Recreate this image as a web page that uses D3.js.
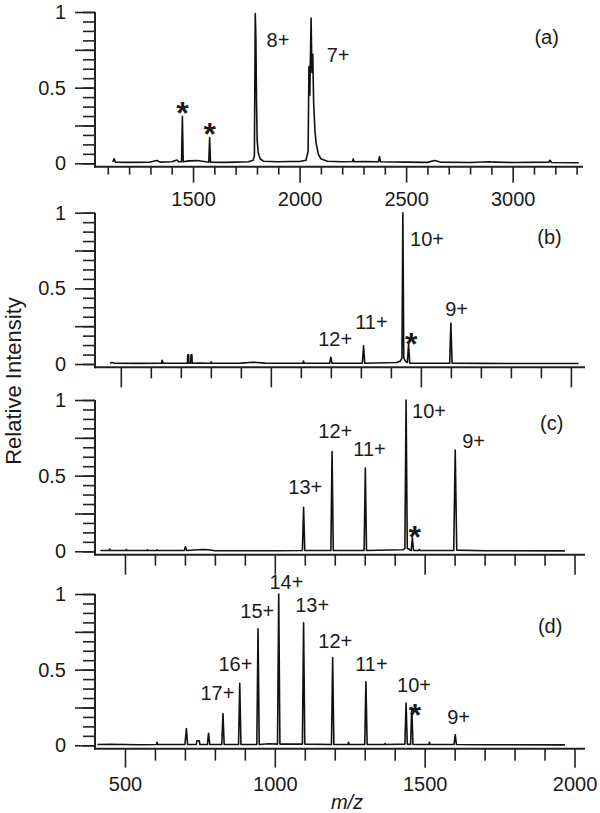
<!DOCTYPE html>
<html>
<head>
<meta charset="utf-8">
<script src="https://cdn.jsdelivr.net/npm/d3@7"></script>
<style>
  body { margin: 0; background: #fff; }
  svg text { font-family: "Liberation Sans", Arial, sans-serif; fill: #1a1a1a; }
</style>
</head>
<body>
<div id="chart"></div>
<script>
// spectra: [m/z, relative intensity]
var specA = [
  [1123,0.01],[1130,0.03],[1135,0.008],[1200,0.006],[1300,0.008],[1330,0.018],[1345,0.008],[1400,0.01],
  [1425,0.022],[1432,0.01],[1446,0.01],[1450,0.31],[1454,0.01],[1480,0.016],[1520,0.018],[1560,0.01],
  [1574,0.008],[1578,0.17],[1582,0.008],[1650,0.006],[1700,0.008],[1760,0.01],[1782,0.02],[1788,0.05],
  [1792,0.99],[1795,0.83],[1798,0.4],[1801,0.15],[1806,0.07],[1815,0.03],[1830,0.014],[1900,0.01],
  [1950,0.012],[2000,0.012],[2030,0.02],[2040,0.08],[2044,0.64],[2048,0.45],[2054,0.96],[2058,0.6],
  [2062,0.72],[2066,0.4],[2072,0.22],[2078,0.13],[2088,0.06],[2100,0.03],[2130,0.014],[2200,0.01],
  [2248,0.012],[2252,0.03],[2256,0.01],[2300,0.012],[2370,0.01],[2375,0.045],[2380,0.01],[2500,0.008],
  [2600,0.006],[2633,0.018],[2660,0.008],[2800,0.005],[2890,0.01],[2920,0.008],[3000,0.005],[3170,0.008],
  [3175,0.02],[3182,0.005],[3310,0.004]
];
var specB = [
  [464,0.005],[470,0.01],[480,0.005],[560,0.004],[636,0.005],[638,0.025],[641,0.005],[700,0.005],
  [722,0.005],[723,0.06],[726,0.06],[727,0.005],[733,0.005],[734,0.06],[737,0.06],[738,0.005],
  [760,0.006],[800,0.005],[801,0.015],[803,0.005],[900,0.006],[940,0.012],[980,0.006],[1050,0.005],
  [1107,0.005],[1109,0.02],[1111,0.005],[1196,0.005],[1200,0.045],[1204,0.005],[1305,0.005],[1309,0.12],
  [1313,0.005],[1420,0.01],[1432,0.02],[1437,0.04],[1440,1.0],[1443,0.04],[1448,0.02],[1455,0.01],
  [1459,0.13],[1463,0.005],[1596,0.005],[1600,0.27],[1604,0.005],[1700,0.004],[2025,0.003]
];
var specC = [
  [418,0.005],[447,0.005],[449,0.015],[451,0.005],[503,0.005],[505,0.012],[507,0.005],[573,0.005],
  [575,0.01],[577,0.005],[605,0.005],[607,0.01],[609,0.005],[698,0.005],[702,0.03],[706,0.005],
  [745,0.01],[760,0.012],[778,0.01],[800,0.004],[900,0.004],[1000,0.004],[1092,0.005],[1096,0.29],
  [1100,0.005],[1187,0.005],[1191,0.66],[1195,0.005],[1298,0.005],[1302,0.55],[1306,0.005],[1428,0.01],
  [1434,0.02],[1438,1.0],[1442,0.02],[1455,0.005],[1459,0.09],[1463,0.005],[1480,0.005],[1482,0.012],
  [1485,0.005],[1597,0.005],[1602,0.67],[1607,0.008],[1700,0.004],[1968,0.003]
];
var specD = [
  [408,0.005],[450,0.006],[500,0.005],[550,0.004],[605,0.005],[607,0.02],[609,0.005],[700,0.005],
  [705,0.11],[709,0.005],[738,0.005],[740,0.03],[744,0.03],[748,0.03],[750,0.005],[775,0.005],
  [779,0.08],[783,0.005],[823,0.005],[827,0.21],[831,0.005],[879,0.005],[883,0.41],[887,0.005],
  [940,0.005],[944,0.77],[948,0.005],[980,0.01],[1009,0.008],[1013,1.0],[1017,0.008],[1092,0.008],
  [1096,0.81],[1100,0.008],[1189,0.005],[1193,0.58],[1197,0.005],[1244,0.005],[1246,0.02],[1248,0.005],
  [1300,0.005],[1304,0.42],[1308,0.005],[1366,0.005],[1368,0.012],[1370,0.005],[1434,0.008],[1438,0.28],
  [1442,0.008],[1453,0.005],[1457,0.25],[1461,0.005],[1514,0.005],[1516,0.02],[1518,0.005],[1598,0.005],
  [1602,0.07],[1606,0.005],[1700,0.004],[1968,0.003]
];

// peak labels: [text, m/z, intensity] (left edge / baseline)
var labA = [["8+",1845,0.77],["7+",2127,0.67],["(a)",3102,0.79]];
var labB = [["10+",1464,0.78],["9+",1581,0.32],["11+",1281,0.23],["12+",1158,0.12],["(b)",1888,0.79]];
var labC = [["10+",1458,0.88],["12+",1145,0.75],["11+",1262,0.63],["9+",1625,0.68],["13+",1045,0.38],["(c)",1885,0.8]];
var labD = [["14+",982,1.03],["13+",1068,0.88],["15+",885,0.84],["16+",812,0.49],["17+",752,0.3],
            ["12+",1145,0.64],["11+",1268,0.49],["10+",1408,0.35],["9+",1575,0.14],["(d)",1878,0.74]];
// asterisks: [m/z, intensity of baseline]
var starA = [[1450,0.26],[1578,0.12]];
var starB = [[1468,0.06]];
var starC = [[1467,0.02]];
var starD = [[1468,0.13]];

var xMajorA = [1500,2000,2500,3000];
var xMajorB = [500,1000,1500,2000];
var yTickLabels = ["0","0.5","1"];

var w = 600, h = 813;
var svg = d3.select("#chart").append("svg").attr("width", w).attr("height", h);

var panels = [
  {spec: specA, lab: labA, star: starA, top: 12,    xd: [1040,3330], xr: [95,583], maj: xMajorA, minStep: 100, minFrom: 1100, minTo: 3300, big: 16, small: 8, labels: true},
  {spec: specB, lab: labB, star: starB, top: 212.7, xd: [414,2047],  xr: [95,585], maj: xMajorB, minStep: 100, minFrom: 500,  minTo: 2000, big: 20, small: 11, labels: false},
  {spec: specC, lab: labC, star: starC, top: 400,   xd: [400,2035],  xr: [95,585], maj: xMajorB, minStep: 100, minFrom: 500,  minTo: 2000, big: 20, small: 11, labels: false},
  {spec: specD, lab: labD, star: starD, top: 594,   xd: [400,2035],  xr: [95,585], maj: xMajorB, minStep: 100, minFrom: 500,  minTo: 2000, big: 19, small: 12, labels: true}
];

var unit = 151.3;

panels.forEach(function(p) {
  var x = d3.scaleLinear().domain(p.xd).range(p.xr);
  var y = d3.scaleLinear().domain([-0.022, 1]).range([p.top + unit * 1.022, p.top]);
  var g = svg.append("g");
  var base = y(-0.022);

  // y axis: minor (1/16), quarter, major labelled
  var yMinor = d3.range(0, 17).map(function(i) { return i / 16; });
  g.append("g").attr("transform", "translate(" + p.xr[0] + ",0)")
    .call(d3.axisLeft(y).tickValues(yMinor).tickSize(12).tickSizeOuter(0).tickFormat(""))
    .call(function(a) { a.select(".domain").remove(); a.selectAll("line").attr("stroke", "#222").attr("stroke-width", 1.6); });
  g.append("g").attr("transform", "translate(" + p.xr[0] + ",0)")
    .call(d3.axisLeft(y).tickValues([0, 0.25, 0.5, 0.75, 1]).tickSize(20).tickSizeOuter(0)
      .tickFormat(function(d) { var k = [0, 0.5, 1].indexOf(d); return k < 0 ? "" : yTickLabels[k]; }))
    .call(function(a) {
      a.select(".domain").remove();
      a.selectAll("line").attr("stroke", "#222").attr("stroke-width", 1.6);
      a.selectAll("text").attr("x", -29).attr("font-size", 20).attr("font-family", "Liberation Sans, Arial, sans-serif").attr("fill", "#1a1a1a");
    });

  // x axis
  var xMinor = d3.range(p.minFrom, p.minTo + 1, p.minStep).filter(function(v) { return p.maj.indexOf(v) < 0; });
  g.append("g").attr("transform", "translate(0," + base + ")")
    .call(d3.axisBottom(x).tickValues(xMinor).tickSize(p.small).tickSizeOuter(0).tickFormat(""))
    .call(function(a) { a.select(".domain").remove(); a.selectAll("line").attr("stroke", "#222").attr("stroke-width", 1.6); });
  g.append("g").attr("transform", "translate(0," + base + ")")
    .call(d3.axisBottom(x).tickValues(p.maj).tickSize(p.big).tickSizeOuter(0)
      .tickFormat(p.labels ? d3.format("d") : ""))
    .call(function(a) {
      a.select(".domain").remove();
      a.selectAll("line").attr("stroke", "#222").attr("stroke-width", 1.6);
      a.selectAll("text").attr("y", p.big + 9).attr("font-size", 20).attr("font-family", "Liberation Sans, Arial, sans-serif").attr("fill", "#1a1a1a");
    });

  // axis lines
  g.append("line").attr("x1", p.xr[0]).attr("x2", p.xr[0]).attr("y1", y(1)).attr("y2", base + 1)
    .attr("stroke", "#222").attr("stroke-width", 2);
  g.append("line").attr("x1", p.xr[0]).attr("x2", p.xr[1]).attr("y1", base).attr("y2", base)
    .attr("stroke", "#222").attr("stroke-width", 2);

  // spectrum
  var line = d3.line().x(function(d) { return x(d[0]); }).y(function(d) { return y(d[1]); });
  g.append("path").datum(p.spec).attr("d", line)
    .attr("fill", "none").attr("stroke", "#111").attr("stroke-width", 1.6).attr("stroke-linejoin", "round");

  // labels
  g.selectAll(".lab").data(p.lab).enter().append("text")
    .attr("x", function(d) { return x(d[1]); })
    .attr("y", function(d) { return y(d[2]); })
    .attr("font-size", 20)
    .text(function(d) { return d[0]; });

  g.selectAll(".star").data(p.star).enter().append("text")
    .attr("x", function(d) { return x(d[0]); })
    .attr("y", function(d) { return y(d[1]); })
    .attr("text-anchor", "middle")
    .attr("font-size", 32).attr("font-weight", "bold")
    .text("*");
});

svg.append("text")
  .attr("transform", "translate(21,381) rotate(-90)")
  .attr("text-anchor", "middle")
  .attr("font-size", 22)
  .text("Relative Intensity");

svg.append("text")
  .attr("x", 347).attr("y", 809)
  .attr("text-anchor", "middle")
  .attr("font-size", 20).attr("font-style", "italic")
  .text("m/z");
</script>
</body>
</html>
